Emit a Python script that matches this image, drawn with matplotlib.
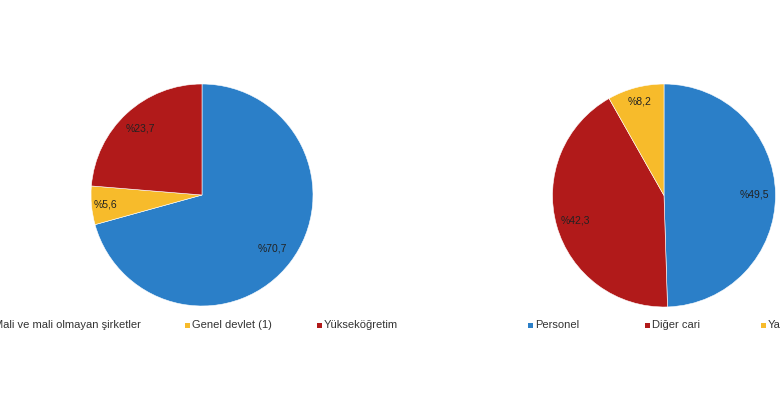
import matplotlib.pyplot as plt
from matplotlib.patches import Rectangle
import numpy as np

plt.rcParams['font.family'] = ['Liberation Sans', 'DejaVu Sans']

# left pie: sector shares
sol_etiketler = ["Mali ve mali olmayan şirketler", "Genel devlet (1)", "Yükseköğretim"]
sol_degerler = [70.7, 5.6, 23.7]
sol_renkler = ["#2b7fc8", "#f7bb2b", "#b11a1a"]

# right pie: expense types
sag_etiketler = ["Personel", "Diğer cari", "Yatırım"]
sag_degerler = [49.5, 42.3, 8.2]
sag_renkler = ["#2b7fc8", "#b11a1a", "#f7bb2b"]

W, H = 780, 400
fig = plt.figure(figsize=(W / 100, H / 100), dpi=100)
fig.patch.set_facecolor("white")


def pasta(cx, cy, r, degerler, renkler, uzakliklar):
    k = 1.1
    ax = fig.add_axes([(cx - k * r) / W, (H - cy - k * r) / H, 2 * k * r / W, 2 * k * r / H])
    wedges, texts, autotexts = ax.pie(degerler, colors=renkler, startangle=90, counterclock=False,
                                      autopct=lambda p: "", wedgeprops=dict(edgecolor="white", linewidth=0.4))
    for w, t, d, val in zip(wedges, autotexts, uzakliklar, degerler):
        ang = np.deg2rad((w.theta1 + w.theta2) / 2)
        t.set_position((d * np.cos(ang), d * np.sin(ang)))
        t.set_text("%" + ("%.1f" % val).replace(".", ","))
        t.set_fontsize(7.5)
        t.set_color("#222222")
    ax.set_xlim(-k, k)
    ax.set_ylim(-k, k)
    ax.set_aspect("equal")
    ax.axis("off")


pasta(202, 195, 111, sol_degerler, sol_renkler, [0.80, 0.87, 0.82])
pasta(664, 195.5, 111.5, sag_degerler, sag_renkler, [0.81, 0.83, 0.87])


def lejant(xs, y, etiketler, renkler):
    for x, et, rk in zip(xs, etiketler, renkler):
        fig.add_artist(Rectangle(((x - 2.5) / W, (H - y - 2.5) / H), 5 / W, 5 / H,
                                 transform=fig.transFigure, color=rk, lw=0))
        fig.text((x + 5) / W, (H - y) / H, et, fontsize=8, color="#333333", ha="left", va="center")


lejant([-11, 187, 319], 325, sol_etiketler, sol_renkler)
lejant([530, 647, 763], 325, sag_etiketler, sag_renkler)

fig.savefig("out.png", dpi=100)
